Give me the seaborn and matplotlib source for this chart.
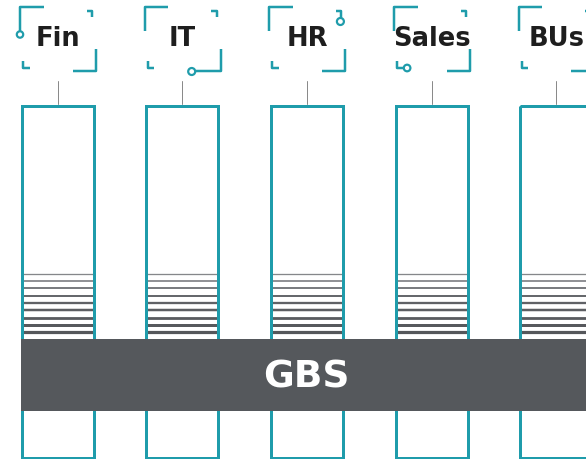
import matplotlib.pyplot as plt
plt.switch_backend('agg')
import seaborn as sns
from matplotlib.patches import Rectangle, Circle

# labels of the functions feeding into GBS
labels = ['Fin', 'IT', 'HR', 'Sales', 'BUs']
band_label = 'GBS'
# where the small circle sits on each icon frame
circle_spots = ['left', 'bottom', 'top', 'bottomleft', None]
# stripe thickness (px), top to bottom
stripe_px = [1.3, 1.6, 1.8, 2.0, 2.3, 2.5, 2.8, 3.0, 3.2]
stripe_grey = ['#85878a', '#76787c', '#6c6e72', '#66686c', '#606266',
               '#5c5e62', '#595b5f', '#57595d', '#55575b']

teal = '#1f9cab'
dark = '#55585c'
PX = 0.72  # one pixel in points at dpi 100

sns.set_style('white')
plt.rcParams['font.family'] = ['DejaVu Sans']

fig = plt.figure(figsize=(5.86, 4.60), dpi=100)
ax = fig.add_axes([0, 0, 1, 1])
ax.set_xlim(0, 586)
ax.set_ylim(460, 0)
ax.axis('off')

step = 124.7
for i, lab in enumerate(labels):
    x0 = 21.5 + step * i
    cx = x0 + 36
    # column
    ax.add_patch(Rectangle((x0, 106.5), 72, 352, fill=False,
                           edgecolor=teal, lw=3 * PX, zorder=3))
    # connector
    ax.plot([cx, cx], [82, 105], color='#8a8a8a', lw=1 * PX, zorder=2)
    # stripes
    for k, (w, c) in enumerate(zip(stripe_px, stripe_grey)):
        y = 274.7 + 7.3 * k
        ax.plot([x0 + 1, x0 + 71], [y, y], color=c, lw=w * PX,
                solid_capstyle='butt', zorder=2)
    # icon frame
    fx = 19.5 + step * i
    kw = dict(color=teal, lw=2.5 * PX, solid_capstyle='butt', zorder=3)
    ax.plot([fx + 24, fx + 0.5, fx + 0.5], [8, 8, 32], **kw)
    ax.plot([fx + 67, fx + 72.5, fx + 72.5], [12, 12, 18], **kw)
    ax.plot([fx + 53, fx + 76.5, fx + 76.5], [72, 72, 50], **kw)
    ax.plot([fx + 3.5, fx + 3.5, fx + 10], [62, 69, 69], **kw)
    spot = circle_spots[i]
    if spot == 'left':
        ax.add_patch(Circle((fx + 0.5, 35.5), 3.2, fill=False,
                            edgecolor=teal, lw=2.2 * PX, zorder=3))
    elif spot == 'bottom':
        ax.plot([fx + 52, fx + 53], [72, 72], **kw)
        ax.add_patch(Circle((fx + 47.5, 72.5), 3.5, fill=False,
                            edgecolor=teal, lw=2.2 * PX, zorder=3))
    elif spot == 'top':
        ax.plot([fx + 72.5, fx + 72.5], [18, 18.5], **kw)
        ax.add_patch(Circle((fx + 71.5, 22.5), 3.5, fill=False,
                            edgecolor=teal, lw=2.2 * PX, zorder=3))
    elif spot == 'bottomleft':
        ax.plot([fx + 10, fx + 10], [69, 69], **kw)
        ax.add_patch(Circle((fx + 13.5, 69), 3.3, fill=False,
                            edgecolor=teal, lw=2.2 * PX, zorder=3))
    ax.text(cx, 39, lab, ha='center', va='center', fontsize=18.5,
            fontweight='bold', color='#1e1e1e', zorder=4)

# GBS band
ax.add_patch(Rectangle((21, 339.5), 600, 72.5, facecolor=dark,
                       edgecolor='none', zorder=5))
ax.text(306.5, 378, band_label, ha='center', va='center', fontsize=27,
        fontweight='bold', color='white', zorder=6)

plt.savefig('out.png', dpi=100)
